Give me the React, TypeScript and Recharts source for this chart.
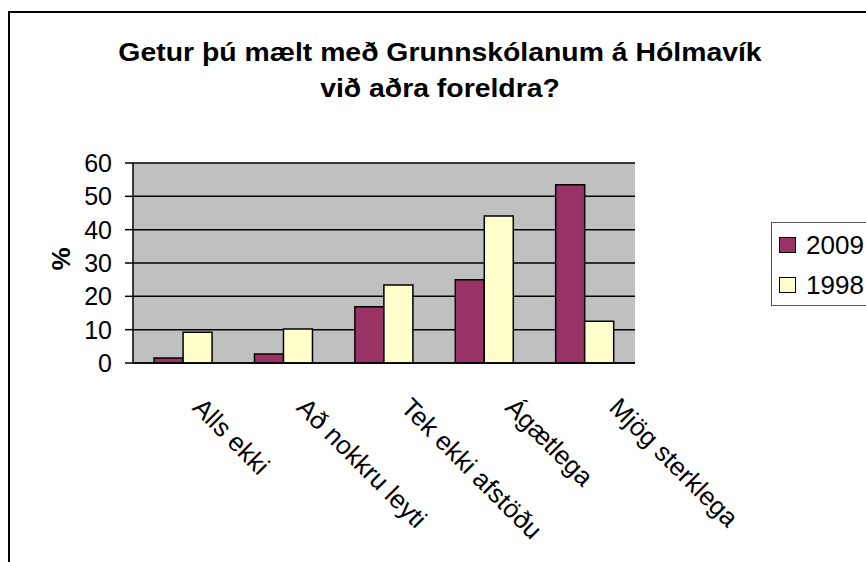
import React from 'react';
import { BarChart, Bar, XAxis, YAxis, CartesianGrid } from 'recharts';

const categories = ['Alls ekki', 'Að nokkru leyti', 'Tek ekki afstöðu', 'Ágætlega', 'Mjög sterklega'];
const values2009 = [1.5, 2.7, 16.9, 25.0, 53.5];
const values1998 = [9.2, 10.2, 23.4, 44.1, 12.5];
const yTicks = [0, 10, 20, 30, 40, 50, 60];
const boundaryTicks = [0, 1, 2, 3, 4, 5];
const titleLines = ['Getur þú mælt með Grunnskólanum á Hólmavík', 'við aðra foreldra?'];
const seriesNames = ['2009', '1998'];
const seriesColors = ['#993366', '#FFFFCC'];

const data = categories.map((c, i) => ({ name: c, idx: i + 0.5, s2009: values2009[i], s1998: values1998[i] }));

const FONT = "Arial, 'Liberation Sans', sans-serif";

const XTick = (props: any) => {
  const { x, y, payload, index } = props;
  const dx = 8 + 3.75 * (index ?? 0);
  return (
    <g transform={`translate(${x},${y})`}>
      <text
        x={0}
        y={0}
        transform={`translate(${dx},46) rotate(45)`}
        textAnchor="start"
        fontSize={26}
        fontFamily={FONT}
        fill="#000"
      >
        {payload.value}
      </text>
    </g>
  );
};

const YLabel = (props: any) => {
  const cx = 61;
  const cy = 259;
  return (
    <text
      x={cx}
      y={cy}
      transform={`rotate(-90,${cx},${cy})`}
      textAnchor="middle"
      dominantBaseline="central"
      fontSize={26}
      fontWeight="bold"
      fontFamily={FONT}
      fill="#000"
    >
      %
    </text>
  );
};

export default function App() {
  return (
    <div style={{ position: 'absolute', left: 0, top: 0, width: 866, height: 562, overflow: 'hidden', background: '#fff', fontFamily: FONT }}>
      <div style={{ position: 'absolute', left: 8, top: 11, width: 900, height: 600, borderLeft: '2px solid #000', borderTop: '2px solid #000' }} />
      <div style={{ position: 'absolute', left: 5, width: 870, top: 34, textAlign: 'center', fontSize: 25, fontWeight: 'bold', lineHeight: '36px', color: '#000', transform: 'scaleX(1.135)', transformOrigin: '435px 0' }}>
        {titleLines.map((t, i) => (
          <div key={i}>{t}</div>
        ))}
      </div>
      <div style={{ position: 'absolute', left: 0, top: 0 }}>
        <BarChart
          width={866}
          height={562}
          data={data}
          margin={{ top: 163, right: 231, bottom: 49, left: 73 }}
          barCategoryGap="21%"
          barGap={0}
        >
          <CartesianGrid vertical={false} fill="#C0C0C0" stroke="#000" strokeWidth={1.5} />
          <XAxis
            dataKey="name"
            xAxisId="cat"
            height={150}
            interval={0}
            tickLine={false}
            tickSize={0}
            tickMargin={0}
            axisLine={{ stroke: '#000', strokeWidth: 1.5 }}
            tick={<XTick />}
          />
          <XAxis
            xAxisId="b"
            type="number"
            dataKey="idx"
            domain={[0, 5]}
            ticks={boundaryTicks}
            height={0}
            tick={false}
            tickSize={8}
            tickLine={{ stroke: '#000', strokeWidth: 1.5 }}
            axisLine={false}
          />
          <XAxis
            xAxisId="top"
            orientation="top"
            dataKey="name"
            height={0}
            tick={false}
            tickLine={false}
            axisLine={{ stroke: '#808080', strokeWidth: 1.5 }}
          />
          <YAxis
            width={60}
            domain={[0, 60]}
            ticks={yTicks}
            interval={0}
            tickSize={8}
            tickMargin={13}
            axisLine={{ stroke: '#000', strokeWidth: 1.5 }}
            tickLine={{ stroke: '#000', strokeWidth: 1.5 }}
            tick={{ fontSize: 25, fill: '#000', fontFamily: FONT }}
            label={<YLabel />}
          />
          <YAxis
            yAxisId="r"
            orientation="right"
            width={0}
            domain={[0, 60]}
            tick={false}
            tickLine={false}
            axisLine={{ stroke: '#808080', strokeWidth: 1.5 }}
          />
          <Bar dataKey="s2009" xAxisId="cat" fill={seriesColors[0]} stroke="#000" strokeWidth={1.5} isAnimationActive={false} />
          <Bar dataKey="s1998" xAxisId="cat" fill={seriesColors[1]} stroke="#000" strokeWidth={1.5} isAnimationActive={false} />
        </BarChart>
      </div>
      <div style={{ position: 'absolute', left: 771, top: 222, width: 120, height: 82, border: '1.5px solid #555', background: '#fff' }}>
        {seriesNames.map((n, i) => (
          <div key={n} style={{ position: 'absolute', left: 7, top: 8 + i * 40, height: 28, display: 'flex', alignItems: 'center' }}>
            <div style={{ width: 15, height: 14, background: seriesColors[i], border: '1.5px solid #000' }} />
            <span style={{ marginLeft: 10, fontSize: 26, color: '#000' }}>{n}</span>
          </div>
        ))}
      </div>
    </div>
  );
}
